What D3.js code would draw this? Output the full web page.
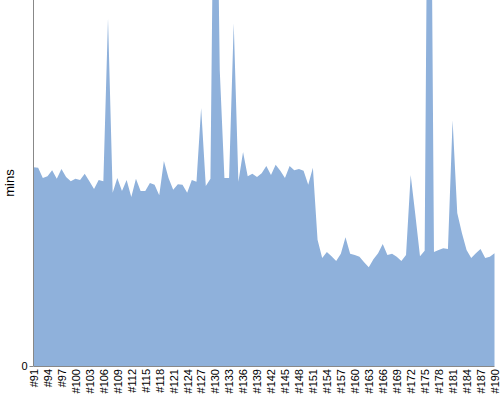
<!DOCTYPE html>
<html>
<head>
<meta charset="utf-8">
<script src="https://cdn.jsdelivr.net/npm/d3@7"></script>
<style>
  html, body { margin: 0; padding: 0; background: #fff; }
  svg { display: block; font-family: "Liberation Sans", Arial, sans-serif; }
</style>
</head>
<body>
<div id="chart"></div>
<script>
const firstId = 91;
const categories = Array.from({length: 100}, (_, i) => "#" + (firstId + i));
const minutes = [
  32.6, 32.5, 30.8, 31.1, 32.1, 30.7, 32.3, 31.0, 30.3, 30.7,
  30.5, 31.5, 30.3, 29.0, 30.5, 30.3, 57.0, 28.4, 30.8, 28.7,
  30.5, 27.7, 30.7, 28.7, 28.7, 30.0, 29.7, 28.0, 33.6, 30.8,
  28.9, 29.8, 29.7, 28.4, 30.5, 30.2, 42.3, 29.5, 30.7, 105.9,
  48.5, 30.8, 30.8, 56.2, 30.2, 35.1, 31.1, 31.5, 31.0, 31.6,
  32.8, 31.3, 33.0, 32.0, 30.8, 32.8, 32.1, 32.3, 32.0, 29.7,
  32.5, 20.7, 17.7, 18.7, 18.0, 17.2, 18.4, 21.1, 18.4, 18.2,
  17.9, 17.0, 16.2, 17.5, 18.5, 20.0, 18.2, 18.4, 17.9, 17.2,
  18.2, 31.3, 24.8, 18.0, 18.9, 125.6, 18.7, 19.0, 19.3, 19.2,
  40.3, 25.1, 21.8, 19.0, 17.7, 18.5, 19.2, 17.7, 17.9, 18.5
];
const yDomain = [0, 60];
const yTicks = [0];
const yLabel = "mins";

(function () {
const W = 500, H = 400;
const mLeft = 33.5, mRight = 494.5, mTop = 0, mBottom = 366;

const svg = d3.select("#chart").append("svg").attr("width", W).attr("height", H);

const x = d3.scalePoint().domain(categories).range([mLeft, mRight]);
const y = d3.scaleLinear().domain(yDomain).range([mBottom, mTop]);

svg.append("clipPath").attr("id", "clip")
  .append("rect").attr("x", mLeft).attr("y", mTop).attr("width", mRight - mLeft + 1).attr("height", mBottom - mTop);

const area = d3.area()
  .x((d, i) => x(categories[i]))
  .y0(y(0))
  .y1(d => y(d));

svg.append("path")
  .datum(minutes)
  .attr("clip-path", "url(#clip)")
  .attr("fill", "#8fb1db")
  .attr("d", area);

// x axis
const xAxis = d3.axisBottom(x)
  .tickValues(categories.filter((c, i) => i % 3 === 0))
  .tickSize(0)
  .tickPadding(0);
const gx = svg.append("g").attr("transform", `translate(0,${mBottom})`).call(xAxis);
gx.select(".domain").attr("stroke", "#888").attr("d", `M${mLeft},0.5H${mRight}`);
gx.selectAll("text")
  .attr("transform", "rotate(-90)")
  .attr("text-anchor", "end")
  .attr("x", -3)
  .attr("y", 0)
  .attr("dy", "0.35em")
  .attr("fill", "#000")
  .style("font-size", "11px");

// y axis
const yAxis = d3.axisLeft(y).tickValues(yTicks).tickSize(4).tickPadding(2);
const gy = svg.append("g").attr("transform", `translate(${mLeft},0)`).call(yAxis);
gy.select(".domain").attr("stroke", "#888").attr("d", `M0,${mTop}V${mBottom}`);
gy.selectAll(".tick line").attr("stroke", "#888");
gy.selectAll("text").attr("fill", "#000").style("font-size", "11px");

svg.append("text")
  .attr("transform", `translate(14,${(mTop + mBottom) / 2}) rotate(-90)`)
  .attr("text-anchor", "middle")
  .style("font-size", "13px")
  .attr("fill", "#000")
  .text(yLabel);
})();
</script>
</body>
</html>
